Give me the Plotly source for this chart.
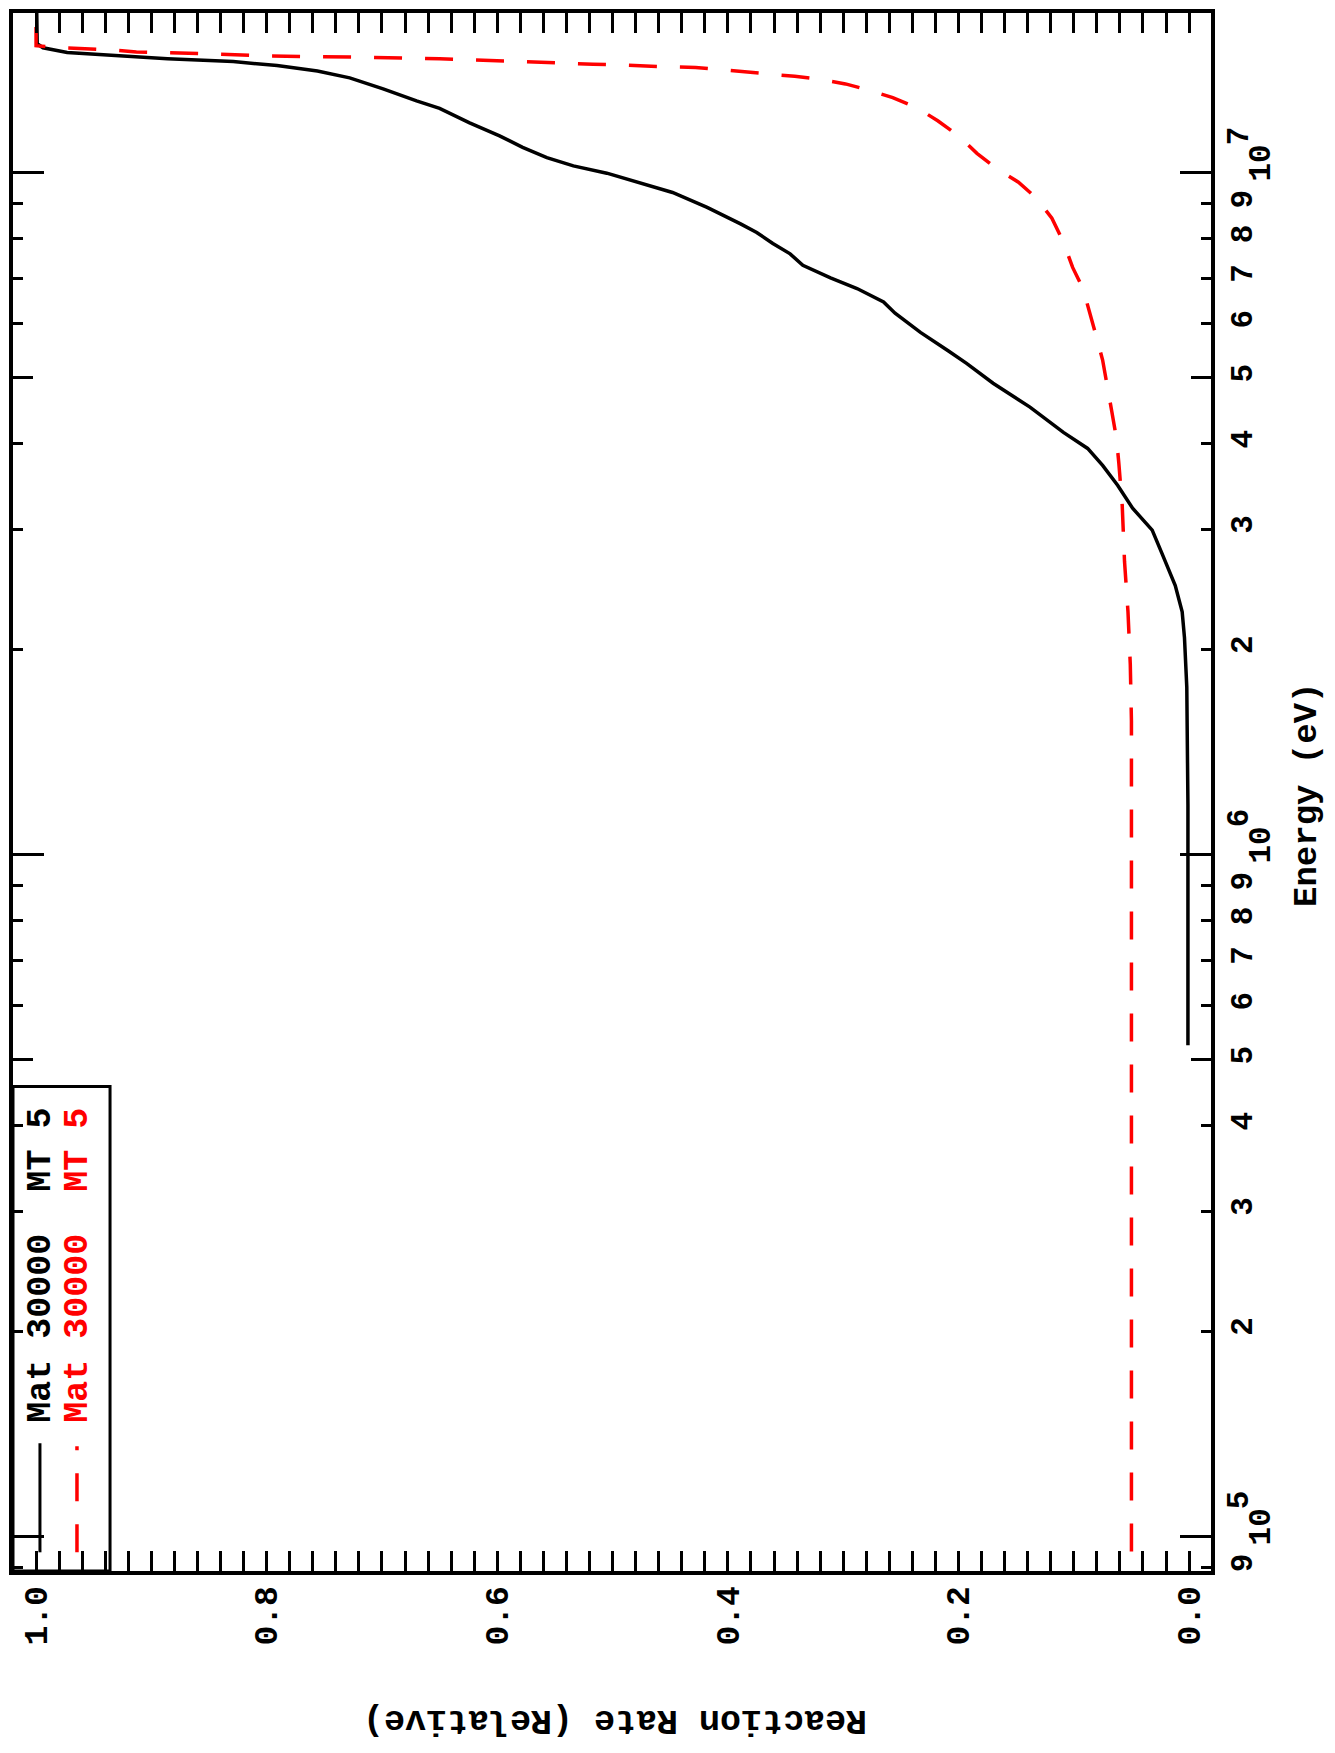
import plotly.graph_objects as go

# ---------------- data ----------------
black_E = [5.25e5, 1.18e6, 1.76e6, 2.08e6, 2.27e6, 2.48e6, 2.75e6, 2.99e6, 3.22e6, 3.48e6,
           3.72e6, 3.94e6, 4.16e6, 4.38e6, 4.53e6, 4.91e6, 5.25e6, 5.48e6, 5.83e6, 6.22e6,
           6.46e6, 6.76e6, 7.01e6, 7.31e6, 7.60e6, 7.87e6, 8.17e6, 8.41e6, 8.89e6, 9.35e6,
           9.66e6, 9.98e6, 1.023e7, 1.052e7, 1.089e7, 1.132e7, 1.183e7, 1.242e7, 1.274e7, 1.327e7,
           1.377e7, 1.409e7, 1.435e7, 1.455e7, 1.469e7, 1.489e7, 1.500e7, 1.524e7, 1.545e7, 2.0e7]
black_rate = [0.001, 0.001, 0.002, 0.004, 0.006, 0.012, 0.023, 0.032, 0.049, 0.062,
              0.075, 0.088, 0.109, 0.127, 0.138, 0.170, 0.193, 0.209, 0.233, 0.255,
              0.265, 0.288, 0.311, 0.335, 0.346, 0.361, 0.375, 0.389, 0.418, 0.448,
              0.476, 0.505, 0.534, 0.557, 0.578, 0.598, 0.624, 0.650, 0.670, 0.699,
              0.728, 0.756, 0.791, 0.829, 0.886, 0.944, 0.973, 0.994, 0.999, 1.0]

red_E = [8.0e4, 1.21e6, 1.57e6, 1.90e6, 2.27e6, 2.69e6, 3.25e6, 3.76e6, 4.08e6, 4.46e6,
         4.84e6, 5.31e6, 5.71e6, 6.22e6, 6.76e6, 7.26e6, 7.91e6, 8.57e6, 9.16e6, 9.68e6,
         1.014e7, 1.067e7, 1.132e7, 1.191e7, 1.245e7, 1.288e7, 1.321e7, 1.349e7, 1.371e7, 1.384e7,
         1.396e7, 1.406e7, 1.419e7, 1.426e7, 1.429e7, 1.435e7, 1.439e7, 1.442e7, 1.446e7, 1.449e7,
         1.455e7, 1.459e7, 1.464e7, 1.469e7, 1.476e7, 1.479e7, 1.483e7, 1.493e7, 1.500e7, 1.503e7,
         1.514e7, 1.517e7, 1.524e7, 1.535e7, 2.0e7]
red_rate = [0.050, 0.0495, 0.050, 0.051, 0.053, 0.056, 0.058, 0.061, 0.063, 0.067,
            0.071, 0.075, 0.080, 0.086, 0.092, 0.101, 0.109, 0.119, 0.132, 0.148,
            0.167, 0.184, 0.200, 0.218, 0.236, 0.257, 0.278, 0.298, 0.322, 0.342,
            0.365, 0.385, 0.408, 0.428, 0.452, 0.473, 0.496, 0.517, 0.540, 0.560,
            0.583, 0.605, 0.628, 0.650, 0.715, 0.758, 0.803, 0.846, 0.891, 0.913,
            0.936, 0.956, 0.979, 1.0, 1.0]

series_names = ["Mat 30000&nbsp;&nbsp;MT 5", "Mat 30000&nbsp;&nbsp;MT 5"]

# energy axis ticks
energy_digit_vals = [9e4, 2e5, 3e5, 4e5, 5e5, 6e5, 7e5, 8e5, 9e5,
                     2e6, 3e6, 4e6, 5e6, 6e6, 7e6, 8e6, 9e6]
energy_digit_text = ["9", "2", "3", "4", "5", "6", "7", "8", "9",
                     "2", "3", "4", "5", "6", "7", "8", "9"]
energy_mid_vals = [5e5, 5e6]
energy_decade_vals = [1e5, 1e6, 1e7]
energy_decade_base = ["10", "10", "10"]
energy_decade_exp = ["5", "6", "7"]
rate_tick_vals = [0.0, 0.2, 0.4, 0.6, 0.8, 1.0]
rate_tick_text = ["0.0", "0.2", "0.4", "0.6", "0.8", "1.0"]

x_title = "Reaction Rate (Relative)"
y_title = "Energy (eV)"

# ---------------- figure ----------------
FONT = "Liberation Mono"
W, H = 1327, 1745          # page has an 8px body margin
L, R, T, B = 5, 124, 1, 182

E_RANGE = [4.9494, 7.234]
RATE_RANGE = [1.020, -0.019]

fig = go.Figure()
fig.add_trace(go.Scatter(x=black_rate, y=black_E, mode="lines",
                         line=dict(color="black", width=3.5), showlegend=False))
fig.add_trace(go.Scatter(x=red_rate, y=red_E, mode="lines",
                         line=dict(color="#ff0000", width=3.5, dash="28px,23px"), showlegend=False))
for ax in ["y2", "y3", "y4"]:
    fig.add_trace(go.Scatter(x=[None], y=[None], yaxis=ax, showlegend=False, hoverinfo="skip"))

digit_font = dict(family=FONT, size=31, color="black", weight="bold")
rate_font = dict(family=FONT, size=33, color="black", weight="bold")

common_y = dict(type="log", range=E_RANGE, side="right", showgrid=False, zeroline=False,
                tickangle=-90, tickwidth=3, tickcolor="black")

fig.update_layout(
    width=W, height=H,
    margin=dict(l=L, r=R, t=T, b=B, pad=0),
    paper_bgcolor="white", plot_bgcolor="white",
    showlegend=False,
    xaxis=dict(
        range=RATE_RANGE, showgrid=False, zeroline=False,
        showline=True, linecolor="black", linewidth=4, mirror="allticks",
        ticks="inside", ticklen=20, tickwidth=3, tickcolor="black",
        tickvals=rate_tick_vals, ticktext=rate_tick_text,
        tickangle=-90, tickfont=rate_font, ticklabelstandoff=-2,
        minor=dict(ticks="inside", ticklen=10, tickwidth=3, tickcolor="black",
                   dtick=0.02, tick0=0, showgrid=False),
    ),
    yaxis=dict(
        **common_y,
        showline=True, linecolor="black", linewidth=4, mirror="allticks",
        ticks="inside", ticklen=10,
        tickvals=energy_digit_vals, ticktext=energy_digit_text,
        tickfont=digit_font, ticklabelstandoff=0,
    ),
    yaxis2=dict(
        **common_y, overlaying="y", anchor="x", showline=False, mirror="allticks",
        ticks="inside", ticklen=31,
        tickvals=energy_decade_vals, ticktext=energy_decade_base,
        tickfont=digit_font, ticklabelstandoff=27, ticklabelshift=-5,
    ),
    yaxis3=dict(
        **common_y, overlaying="y", anchor="x", showline=False, mirror="allticks",
        ticks="inside", ticklen=20,
        tickvals=energy_mid_vals, showticklabels=False,
    ),
    yaxis4=dict(
        **common_y, overlaying="y", anchor="x", showline=False,
        ticks="", tickvals=energy_decade_vals, ticktext=energy_decade_exp,
        tickfont=digit_font, ticklabelstandoff=5, ticklabelshift=-32,
    ),
)

# axis titles (rotated like the original landscape page)
fig.add_annotation(text=y_title, xref="paper", yref="paper", x=1.080, y=0.498,
                   showarrow=False, textangle=-90, xanchor="center", yanchor="middle",
                   font=dict(family=FONT, size=34, color="black", weight="bold"))
fig.add_annotation(text=x_title, xref="paper", yref="paper", x=0.5025, y=-0.096,
                   showarrow=False, textangle=180, xanchor="center", yanchor="middle",
                   font=dict(family=FONT, size=35, color="black", weight="bold"))

# legend box (rotated)
fig.add_shape(type="rect", xref="paper", yref="paper", x0=0, x1=0.081, y0=0, y1=0.311,
              line=dict(color="black", width=3), fillcolor="rgba(0,0,0,0)")
fig.add_shape(type="line", xref="paper", yref="paper", x0=0.0225, x1=0.0225, y0=0.012, y1=0.082,
              line=dict(color="black", width=3))
fig.add_shape(type="line", xref="paper", yref="paper", x0=0.0534, x1=0.0534, y0=0.012, y1=0.080,
              line=dict(color="#ff0000", width=3.5, dash="28px,23px"))
fig.add_annotation(text=series_names[0], xref="paper", yref="paper", x=0.0234, y=0.196,
                   showarrow=False, textangle=-90, xanchor="center", yanchor="middle",
                   font=dict(family=FONT, size=35, color="black", weight="bold"))
fig.add_annotation(text=series_names[1], xref="paper", yref="paper", x=0.0543, y=0.196,
                   showarrow=False, textangle=-90, xanchor="center", yanchor="middle",
                   font=dict(family=FONT, size=35, color="#ff0000", weight="bold"))

fig.write_html("out.html")
